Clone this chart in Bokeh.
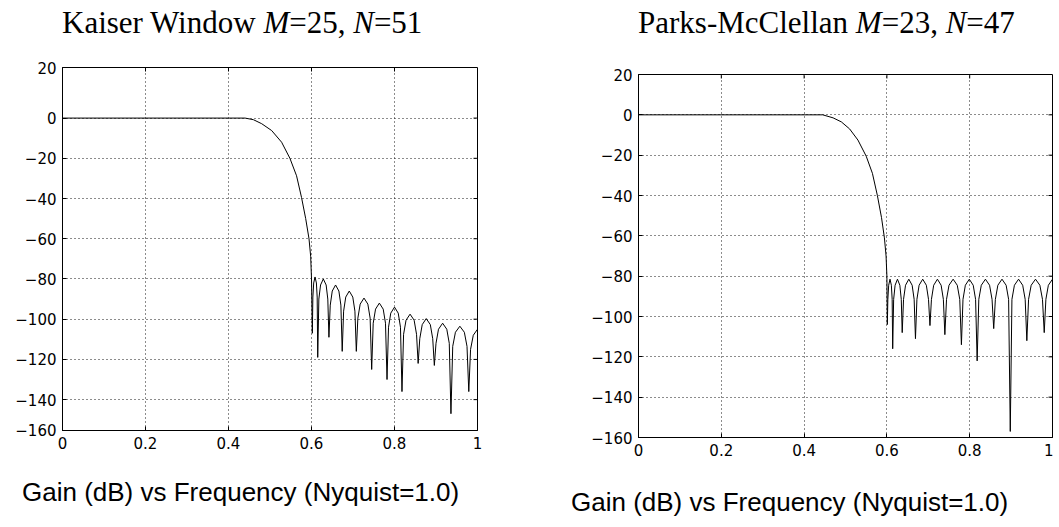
from bokeh.plotting import figure
from bokeh.models import Range1d, FixedTicker, Div
from bokeh.layouts import row, column
from bokeh.embed import file_html
from bokeh.resources import INLINE

# ---------------- data ----------------
x_ticks = [0.0, 0.2, 0.4, 0.6, 0.8, 1.0]
x_tick_labels = ["0", "0.2", "0.4", "0.6", "0.8", "1"]
y_ticks = [-160, -140, -120, -100, -80, -60, -40, -20, 0, 20]
y_tick_labels = ["\u2212160", "\u2212140", "\u2212120", "\u2212100", "\u221280",
                 "\u221260", "\u221240", "\u221220", "0", "20"]

kaiser_freq = [
    0.0, 0.44, 0.46, 0.48, 0.504, 0.528, 0.548, 0.564, 0.576, 0.586, 0.594, 0.598, 0.600, 0.602,
    0.6033, 0.6053, 0.6085, 0.6118, 0.6137, 0.615,
    0.6177, 0.6218, 0.6285, 0.6353, 0.6393, 0.642,
    0.6452, 0.650, 0.658, 0.666, 0.6708, 0.674,
    0.6774, 0.6825, 0.691, 0.6995, 0.7046, 0.708,
    0.7117, 0.7173, 0.7265, 0.7358, 0.7413, 0.745,
    0.7487, 0.7543, 0.7635, 0.7728, 0.7783, 0.782,
    0.7856, 0.791, 0.800, 0.809, 0.8144, 0.818,
    0.8219, 0.8278, 0.8375, 0.8473, 0.8531, 0.857,
    0.8609, 0.8668, 0.8765, 0.8863, 0.8921, 0.896,
    0.900, 0.906, 0.916, 0.926, 0.932, 0.936,
    0.9403, 0.9468, 0.9575, 0.9683, 0.9747, 0.979,
    0.9833, 0.9898, 1.0,
]
kaiser_gain = [
    0, 0, -0.8, -2.8, -6.2, -12, -20, -28.7, -39.5, -50, -60, -68.7, -80, -107,
    -89, -82, -79, -82, -89, -119,
    -90, -83, -80, -83, -90, -109,
    -93, -86, -83, -86, -93, -116,
    -96, -89, -86, -89, -96, -116,
    -99.5, -92.5, -89.5, -92.5, -99.5, -125,
    -102, -95, -92, -95, -102, -130,
    -104, -97, -94, -97, -104, -136,
    -107.5, -100.5, -97.5, -100.5, -107.5, -122,
    -109.7, -102.7, -99.7, -102.7, -109.7, -123,
    -112, -105, -102, -105, -112, -147,
    -113.5, -106.5, -103.5, -106.5, -113.5, -136,
    -115, -108, -105,
]

pm_freq = [
    0.0, 0.445, 0.47, 0.49, 0.51, 0.53, 0.55, 0.565, 0.577, 0.587, 0.594, 0.598, 0.600, 0.601,
    0.6023, 0.6043, 0.6075, 0.6108, 0.6127, 0.614,
    0.6163, 0.6198, 0.6255, 0.6313, 0.6347, 0.637,
    0.6402, 0.645, 0.653, 0.661, 0.6658, 0.669,
    0.6725, 0.6778, 0.6865, 0.6953, 0.7005, 0.704,
    0.7076, 0.713, 0.722, 0.731, 0.7364, 0.740,
    0.744, 0.750, 0.760, 0.770, 0.776, 0.780,
    0.7838, 0.7895, 0.799, 0.8085, 0.8142, 0.818,
    0.822, 0.828, 0.838, 0.848, 0.854, 0.858,
    0.862, 0.868, 0.878, 0.888, 0.894, 0.898,
    0.902, 0.908, 0.918, 0.928, 0.934, 0.938,
    0.9422, 0.9485, 0.959, 0.9695, 0.9758, 0.980,
    0.984, 0.990, 1.0,
]
pm_gain = [
    0, 0, -1.5, -3.5, -7, -12.5, -20.5, -29, -40, -51, -61, -70, -80, -104,
    -91.5, -84.5, -81.5, -84.5, -91.5, -116,
    -91.5, -84.5, -81.5, -84.5, -91.5, -108,
    -91.5, -84.5, -81.5, -84.5, -91.5, -111,
    -91.5, -84.5, -81.5, -84.5, -91.5, -104.5,
    -91.5, -84.5, -81.5, -84.5, -91.5, -109,
    -91.5, -84.5, -81.5, -84.5, -91.5, -114,
    -91.5, -84.5, -81.5, -84.5, -91.5, -122,
    -91.5, -84.5, -81.5, -84.5, -91.5, -106,
    -91.5, -84.5, -81.5, -84.5, -91.5, -157,
    -91.5, -84.5, -81.5, -84.5, -91.5, -112,
    -91.5, -84.5, -81.5, -84.5, -91.5, -108,
    -91.5, -84.5, -81.5,
]

title_left = "Kaiser Window <i>M</i>=25, <i>N</i>=51"
title_right = "Parks-McClellan <i>M</i>=23, <i>N</i>=47"
caption = "Gain (dB) vs Frequency (Nyquist=1.0)"

TICK_FONT = "DejaVu Sans"
TICK_LEN_PX = 4


def make_panel(freq, gain, width, height, mb_left, mb_right, mb_top, mb_bottom,
               y_rng, y_tick_pos):
    p = figure(width=width, height=height, output_backend="svg", toolbar_location=None,
               x_range=Range1d(0, 1), y_range=Range1d(*y_rng),
               min_border_left=mb_left, min_border_right=mb_right,
               min_border_top=mb_top, min_border_bottom=mb_bottom)
    p.background_fill_color = "white"
    p.border_fill_color = "white"
    p.outline_line_color = "black"
    p.outline_line_width = 1

    p.xaxis.ticker = FixedTicker(ticks=x_ticks)
    p.yaxis.ticker = FixedTicker(ticks=y_tick_pos)
    p.xaxis.major_label_overrides = {t: l for t, l in zip(x_ticks, x_tick_labels)}
    p.yaxis.major_label_overrides = {t: l for t, l in zip(y_tick_pos, y_tick_labels)}
    for ax in (p.xaxis[0], p.yaxis[0]):
        ax.axis_line_color = "black"
        ax.major_tick_line_color = "black"
        ax.major_tick_in = TICK_LEN_PX
        ax.major_tick_out = 0
        ax.minor_tick_line_color = None
        ax.major_label_text_font = TICK_FONT
        ax.major_label_text_font_size = "15px"
        ax.major_label_text_color = "black"
        ax.major_label_standoff = 6

    for g in (p.xgrid[0], p.ygrid[0]):
        g.grid_line_color = "black"
        g.grid_line_dash = "1 3"
        g.grid_line_alpha = 0.9
        g.grid_line_width = 1

    # inward tick marks on the top and right edges of the box (as on the bottom/left)
    frame_w = width - mb_left - mb_right
    frame_h = height - mb_top - mb_bottom
    y0, y1 = y_rng
    dy = (y1 - y0) * TICK_LEN_PX / frame_h
    dx = 1.0 * TICK_LEN_PX / frame_w
    inner_x = x_ticks[1:-1]
    inner_y = y_tick_pos[1:-1]
    p.segment(x0=inner_x, y0=[y1] * len(inner_x), x1=inner_x, y1=[y1 - dy] * len(inner_x),
              line_color="black", line_width=1)
    p.segment(x0=[1.0] * len(inner_y), y0=inner_y, x1=[1.0 - dx] * len(inner_y), y1=inner_y,
              line_color="black", line_width=1)

    p.line(freq, gain, line_color="black", line_width=1)
    return p


def title_div(html, width, pad_left):
    return Div(text=(f'<div style="padding-left:{pad_left}px;font-family:\'Liberation Serif\';'
                     f'font-size:31px;line-height:35px;color:black;white-space:nowrap">{html}</div>'),
               width=width, height=50)


def caption_div(width, height, pad_left, pad_top):
    return Div(text=(f'<div style="padding-left:{pad_left}px;padding-top:{pad_top}px;'
                     f'font-family:\'Liberation Sans\';font-size:26px;line-height:30px;'
                     f'color:black;white-space:nowrap">{caption}</div>'),
               width=width, height=height)


# left panel: gridlines at the same heights as the right panel's, frame a bit higher
left_rng = (-155.35, 25.15)
left_tick_pos = [-155.3, -140, -120, -100, -80, -60, -40, -20, 0, 25.1]
p1 = make_panel(kaiser_freq, kaiser_gain, 530, 401, 62, 53, 7, 31, left_rng, left_tick_pos)
p2 = make_panel(pm_freq, pm_gain, 513, 411, 98, 1, 14, 34, (-160, 20), y_ticks)

col1 = column(title_div(title_left, 530, 57), p1, caption_div(530, 58, 17, 11))
col2 = column(title_div(title_right, 513, 93), p2, caption_div(513, 48, 26, 11))

layout = row(col1, col2)
open("out.html", "w").write(file_html(layout, INLINE))
